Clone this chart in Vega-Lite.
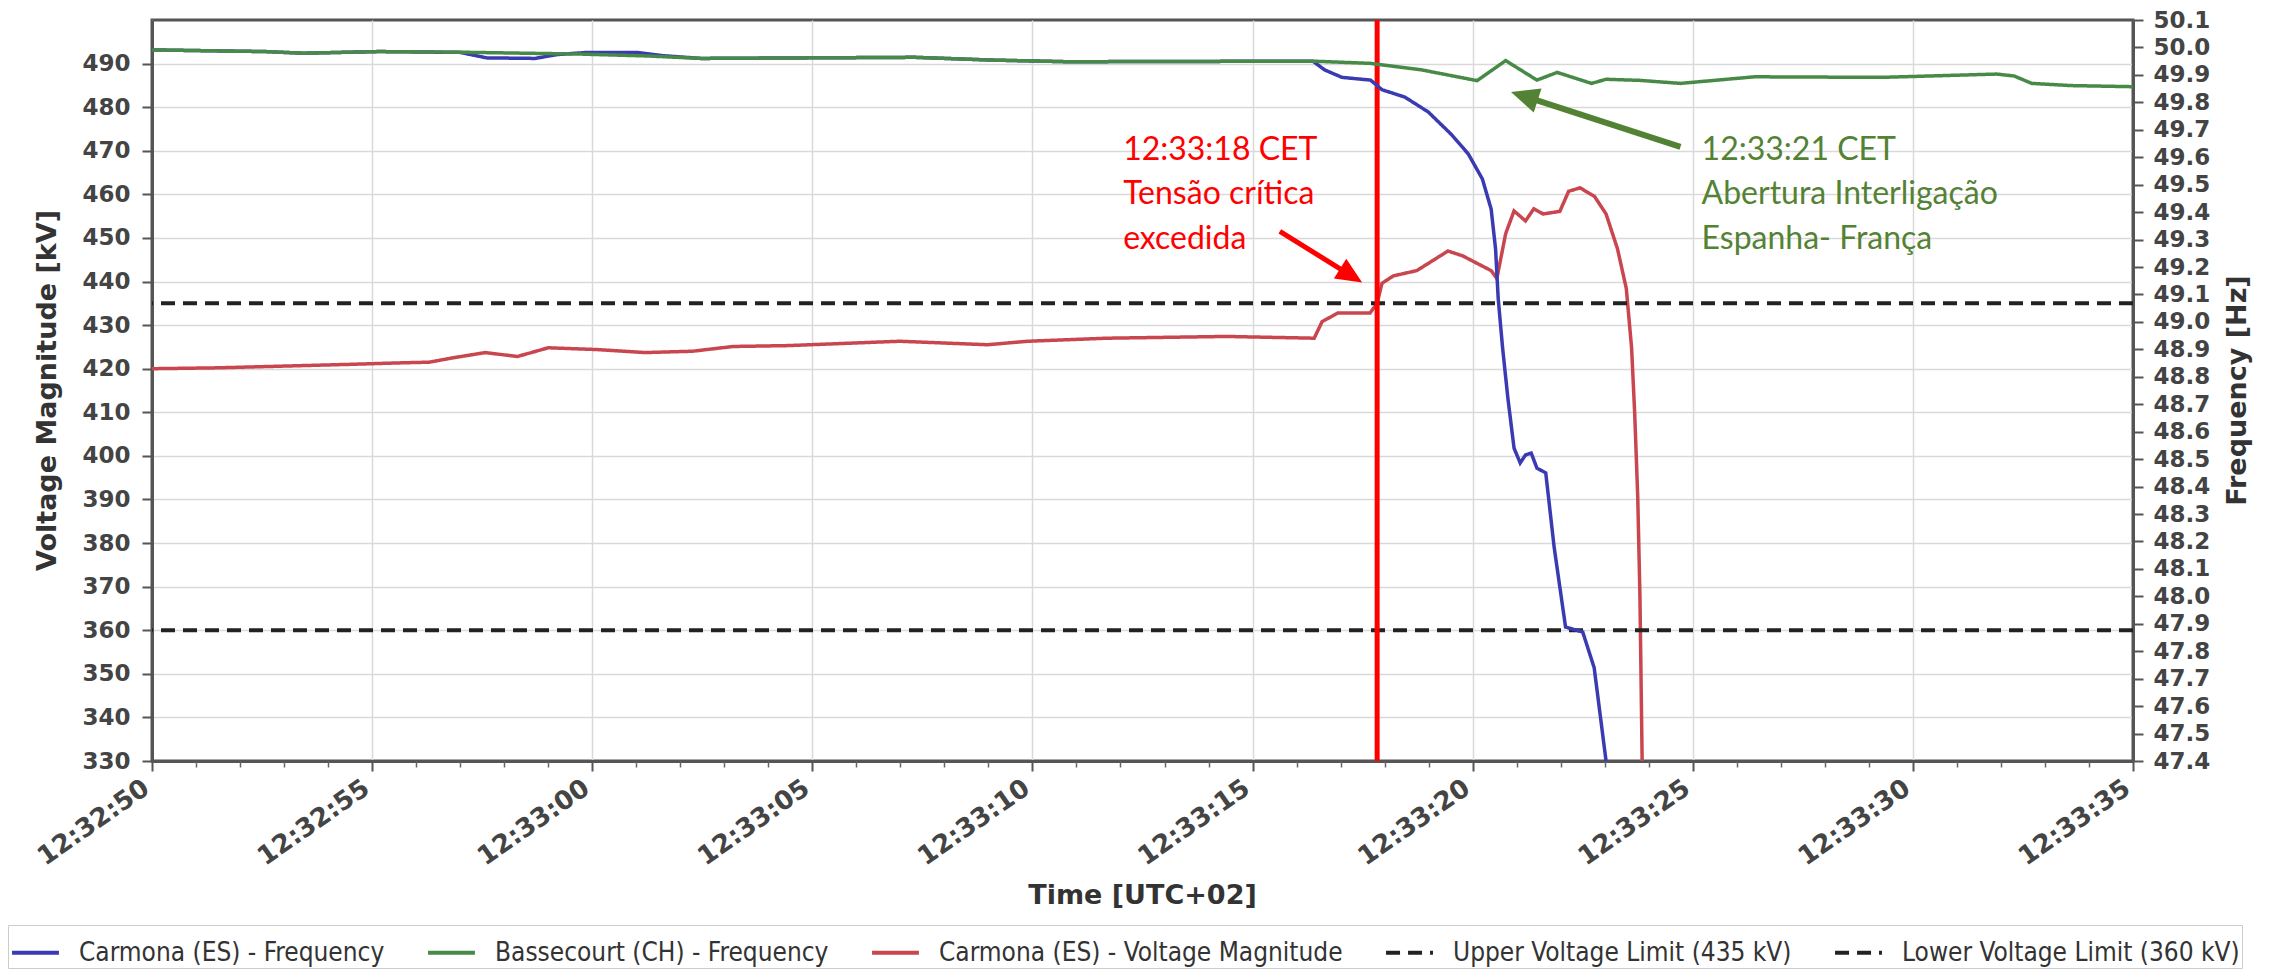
{
  "$schema": "https://vega.github.io/schema/vega-lite/v6.json",
  "width": 1981,
  "height": 741,
  "autosize": {"type": "none"},
  "padding": {"left": 152, "top": 20, "right": 155, "bottom": 209},
  "background": "white",
  "config": {
    "view": {"stroke": "#555555", "strokeWidth": 3}
  },
  "datasets": {
    "volt": [
      {"time": "12:32:50.000", "series": "Carmona (ES) - Voltage Magnitude", "value": 420.0},
      {"time": "12:32:51.500", "series": "Carmona (ES) - Voltage Magnitude", "value": 420.2},
      {"time": "12:32:53.000", "series": "Carmona (ES) - Voltage Magnitude", "value": 420.6},
      {"time": "12:32:54.500", "series": "Carmona (ES) - Voltage Magnitude", "value": 421.0},
      {"time": "12:32:55.500", "series": "Carmona (ES) - Voltage Magnitude", "value": 421.3},
      {"time": "12:32:56.300", "series": "Carmona (ES) - Voltage Magnitude", "value": 421.5},
      {"time": "12:32:56.840", "series": "Carmona (ES) - Voltage Magnitude", "value": 422.5},
      {"time": "12:32:57.570", "series": "Carmona (ES) - Voltage Magnitude", "value": 423.7},
      {"time": "12:32:58.300", "series": "Carmona (ES) - Voltage Magnitude", "value": 422.8},
      {"time": "12:32:59.000", "series": "Carmona (ES) - Voltage Magnitude", "value": 424.8},
      {"time": "12:33:00.100", "series": "Carmona (ES) - Voltage Magnitude", "value": 424.4},
      {"time": "12:33:01.200", "series": "Carmona (ES) - Voltage Magnitude", "value": 423.7},
      {"time": "12:33:02.270", "series": "Carmona (ES) - Voltage Magnitude", "value": 424.0},
      {"time": "12:33:03.200", "series": "Carmona (ES) - Voltage Magnitude", "value": 425.1},
      {"time": "12:33:04.450", "series": "Carmona (ES) - Voltage Magnitude", "value": 425.3},
      {"time": "12:33:06.980", "series": "Carmona (ES) - Voltage Magnitude", "value": 426.3},
      {"time": "12:33:08.970", "series": "Carmona (ES) - Voltage Magnitude", "value": 425.5},
      {"time": "12:33:09.900", "series": "Carmona (ES) - Voltage Magnitude", "value": 426.3},
      {"time": "12:33:11.700", "series": "Carmona (ES) - Voltage Magnitude", "value": 427.0},
      {"time": "12:33:14.400", "series": "Carmona (ES) - Voltage Magnitude", "value": 427.4},
      {"time": "12:33:16.400", "series": "Carmona (ES) - Voltage Magnitude", "value": 427.0},
      {"time": "12:33:16.580", "series": "Carmona (ES) - Voltage Magnitude", "value": 430.8},
      {"time": "12:33:16.940", "series": "Carmona (ES) - Voltage Magnitude", "value": 432.8},
      {"time": "12:33:17.670", "series": "Carmona (ES) - Voltage Magnitude", "value": 432.8},
      {"time": "12:33:17.830", "series": "Carmona (ES) - Voltage Magnitude", "value": 435.0},
      {"time": "12:33:17.940", "series": "Carmona (ES) - Voltage Magnitude", "value": 439.6},
      {"time": "12:33:18.200", "series": "Carmona (ES) - Voltage Magnitude", "value": 441.3},
      {"time": "12:33:18.730", "series": "Carmona (ES) - Voltage Magnitude", "value": 442.5},
      {"time": "12:33:19.440", "series": "Carmona (ES) - Voltage Magnitude", "value": 447.0},
      {"time": "12:33:19.770", "series": "Carmona (ES) - Voltage Magnitude", "value": 445.9},
      {"time": "12:33:20.420", "series": "Carmona (ES) - Voltage Magnitude", "value": 442.5},
      {"time": "12:33:20.550", "series": "Carmona (ES) - Voltage Magnitude", "value": 440.7},
      {"time": "12:33:20.750", "series": "Carmona (ES) - Voltage Magnitude", "value": 451.0},
      {"time": "12:33:20.940", "series": "Carmona (ES) - Voltage Magnitude", "value": 456.2},
      {"time": "12:33:21.200", "series": "Carmona (ES) - Voltage Magnitude", "value": 453.9},
      {"time": "12:33:21.390", "series": "Carmona (ES) - Voltage Magnitude", "value": 456.7},
      {"time": "12:33:21.600", "series": "Carmona (ES) - Voltage Magnitude", "value": 455.5},
      {"time": "12:33:21.980", "series": "Carmona (ES) - Voltage Magnitude", "value": 456.1},
      {"time": "12:33:22.180", "series": "Carmona (ES) - Voltage Magnitude", "value": 460.7},
      {"time": "12:33:22.440", "series": "Carmona (ES) - Voltage Magnitude", "value": 461.5},
      {"time": "12:33:22.770", "series": "Carmona (ES) - Voltage Magnitude", "value": 459.5},
      {"time": "12:33:23.030", "series": "Carmona (ES) - Voltage Magnitude", "value": 455.5},
      {"time": "12:33:23.290", "series": "Carmona (ES) - Voltage Magnitude", "value": 447.5},
      {"time": "12:33:23.490", "series": "Carmona (ES) - Voltage Magnitude", "value": 438.4},
      {"time": "12:33:23.610", "series": "Carmona (ES) - Voltage Magnitude", "value": 424.8},
      {"time": "12:33:23.680", "series": "Carmona (ES) - Voltage Magnitude", "value": 409.9},
      {"time": "12:33:23.750", "series": "Carmona (ES) - Voltage Magnitude", "value": 390.5},
      {"time": "12:33:23.800", "series": "Carmona (ES) - Voltage Magnitude", "value": 367.7},
      {"time": "12:33:23.850", "series": "Carmona (ES) - Voltage Magnitude", "value": 330.0}
    ],
    "freq": [
      {"time": "12:32:50.000", "series": "Carmona (ES) - Frequency", "value": 49.991},
      {"time": "12:32:52.560", "series": "Carmona (ES) - Frequency", "value": 49.985},
      {"time": "12:32:53.430", "series": "Carmona (ES) - Frequency", "value": 49.979},
      {"time": "12:32:55.170", "series": "Carmona (ES) - Frequency", "value": 49.985},
      {"time": "12:32:57.000", "series": "Carmona (ES) - Frequency", "value": 49.982},
      {"time": "12:32:57.600", "series": "Carmona (ES) - Frequency", "value": 49.962},
      {"time": "12:32:58.700", "series": "Carmona (ES) - Frequency", "value": 49.960},
      {"time": "12:32:59.200", "series": "Carmona (ES) - Frequency", "value": 49.974},
      {"time": "12:32:59.900", "series": "Carmona (ES) - Frequency", "value": 49.982},
      {"time": "12:33:01.000", "series": "Carmona (ES) - Frequency", "value": 49.982},
      {"time": "12:33:01.600", "series": "Carmona (ES) - Frequency", "value": 49.970},
      {"time": "12:33:02.470", "series": "Carmona (ES) - Frequency", "value": 49.960},
      {"time": "12:33:07.330", "series": "Carmona (ES) - Frequency", "value": 49.964},
      {"time": "12:33:09.070", "series": "Carmona (ES) - Frequency", "value": 49.954},
      {"time": "12:33:10.800", "series": "Carmona (ES) - Frequency", "value": 49.948},
      {"time": "12:33:16.370", "series": "Carmona (ES) - Frequency", "value": 49.950},
      {"time": "12:33:16.640", "series": "Carmona (ES) - Frequency", "value": 49.918},
      {"time": "12:33:17.030", "series": "Carmona (ES) - Frequency", "value": 49.891},
      {"time": "12:33:17.680", "series": "Carmona (ES) - Frequency", "value": 49.881},
      {"time": "12:33:17.940", "series": "Carmona (ES) - Frequency", "value": 49.846},
      {"time": "12:33:18.460", "series": "Carmona (ES) - Frequency", "value": 49.819},
      {"time": "12:33:18.990", "series": "Carmona (ES) - Frequency", "value": 49.765},
      {"time": "12:33:19.510", "series": "Carmona (ES) - Frequency", "value": 49.684},
      {"time": "12:33:19.900", "series": "Carmona (ES) - Frequency", "value": 49.612},
      {"time": "12:33:20.220", "series": "Carmona (ES) - Frequency", "value": 49.521},
      {"time": "12:33:20.420", "series": "Carmona (ES) - Frequency", "value": 49.411},
      {"time": "12:33:20.520", "series": "Carmona (ES) - Frequency", "value": 49.266},
      {"time": "12:33:20.580", "series": "Carmona (ES) - Frequency", "value": 49.085},
      {"time": "12:33:20.680", "series": "Carmona (ES) - Frequency", "value": 48.905},
      {"time": "12:33:20.800", "series": "Carmona (ES) - Frequency", "value": 48.722},
      {"time": "12:33:20.940", "series": "Carmona (ES) - Frequency", "value": 48.540},
      {"time": "12:33:21.080", "series": "Carmona (ES) - Frequency", "value": 48.486},
      {"time": "12:33:21.200", "series": "Carmona (ES) - Frequency", "value": 48.515},
      {"time": "12:33:21.330", "series": "Carmona (ES) - Frequency", "value": 48.522},
      {"time": "12:33:21.460", "series": "Carmona (ES) - Frequency", "value": 48.467},
      {"time": "12:33:21.660", "series": "Carmona (ES) - Frequency", "value": 48.450},
      {"time": "12:33:21.850", "series": "Carmona (ES) - Frequency", "value": 48.180},
      {"time": "12:33:22.110", "series": "Carmona (ES) - Frequency", "value": 47.888},
      {"time": "12:33:22.500", "series": "Carmona (ES) - Frequency", "value": 47.870},
      {"time": "12:33:22.760", "series": "Carmona (ES) - Frequency", "value": 47.740},
      {"time": "12:33:23.030", "series": "Carmona (ES) - Frequency", "value": 47.400},
      {"time": "12:32:50.000", "series": "Bassecourt (CH) - Frequency", "value": 49.991},
      {"time": "12:32:52.560", "series": "Bassecourt (CH) - Frequency", "value": 49.985},
      {"time": "12:32:53.430", "series": "Bassecourt (CH) - Frequency", "value": 49.979},
      {"time": "12:32:55.170", "series": "Bassecourt (CH) - Frequency", "value": 49.985},
      {"time": "12:32:57.250", "series": "Bassecourt (CH) - Frequency", "value": 49.982},
      {"time": "12:32:59.690", "series": "Bassecourt (CH) - Frequency", "value": 49.976},
      {"time": "12:33:01.250", "series": "Bassecourt (CH) - Frequency", "value": 49.969},
      {"time": "12:33:02.470", "series": "Bassecourt (CH) - Frequency", "value": 49.960},
      {"time": "12:33:07.330", "series": "Bassecourt (CH) - Frequency", "value": 49.964},
      {"time": "12:33:09.070", "series": "Bassecourt (CH) - Frequency", "value": 49.954},
      {"time": "12:33:10.800", "series": "Bassecourt (CH) - Frequency", "value": 49.948},
      {"time": "12:33:16.370", "series": "Bassecourt (CH) - Frequency", "value": 49.950},
      {"time": "12:33:17.680", "series": "Bassecourt (CH) - Frequency", "value": 49.942},
      {"time": "12:33:18.850", "series": "Bassecourt (CH) - Frequency", "value": 49.918},
      {"time": "12:33:20.100", "series": "Bassecourt (CH) - Frequency", "value": 49.879},
      {"time": "12:33:20.750", "series": "Bassecourt (CH) - Frequency", "value": 49.952},
      {"time": "12:33:21.460", "series": "Bassecourt (CH) - Frequency", "value": 49.881},
      {"time": "12:33:21.920", "series": "Bassecourt (CH) - Frequency", "value": 49.909},
      {"time": "12:33:22.700", "series": "Bassecourt (CH) - Frequency", "value": 49.869},
      {"time": "12:33:23.030", "series": "Bassecourt (CH) - Frequency", "value": 49.884},
      {"time": "12:33:23.800", "series": "Bassecourt (CH) - Frequency", "value": 49.880},
      {"time": "12:33:24.720", "series": "Bassecourt (CH) - Frequency", "value": 49.869},
      {"time": "12:33:26.400", "series": "Bassecourt (CH) - Frequency", "value": 49.893},
      {"time": "12:33:29.300", "series": "Bassecourt (CH) - Frequency", "value": 49.891},
      {"time": "12:33:31.900", "series": "Bassecourt (CH) - Frequency", "value": 49.903},
      {"time": "12:33:32.300", "series": "Bassecourt (CH) - Frequency", "value": 49.896},
      {"time": "12:33:32.700", "series": "Bassecourt (CH) - Frequency", "value": 49.869},
      {"time": "12:33:33.600", "series": "Bassecourt (CH) - Frequency", "value": 49.861},
      {"time": "12:33:35.000", "series": "Bassecourt (CH) - Frequency", "value": 49.857}
    ],
    "limits": [
      {"series": "Upper Voltage Limit (435 kV)", "value": 435},
      {"series": "Lower Voltage Limit (360 kV)", "value": 360}
    ],
    "event": [{"time": "12:33:17.830"}],
    "noteRed": [{"time": "12:33:12.060", "value": 467.9, "label": "12:33:18 CET\nTensão crítica\nexcedida"}],
    "noteGreen": [{"time": "12:33:25.200", "value": 467.9, "label": "12:33:21 CET\nAbertura Interligação\nEspanha- França"}],
    "arrowRed": [{"time": "12:33:15.620", "value": 451.5, "time2": "12:33:17.200", "value2": 441.6}],
    "arrowGreen": [{"time": "12:33:24.720", "value": 470.9, "time2": "12:33:21.200", "value2": 482.4}],
    "headRed": [{"time": "12:33:17.490", "value": 439.8}],
    "headGreen": [{"time": "12:33:20.870", "value": 483.5}]
  },
  "layer": [
    {
      "layer": [
        {
          "data": {"name": "volt", "format": {"parse": {"time": "utc:'%H:%M:%S.%L'"}}},
          "mark": {"type": "line", "strokeWidth": 3.5},
          "encoding": {
            "x": {
              "field": "time", "type": "temporal",
              "scale": {"type": "utc", "domain": [
                {"year": 1900, "month": 1, "date": 1, "hours": 12, "minutes": 32, "seconds": 50, "utc": true},
                {"year": 1900, "month": 1, "date": 1, "hours": 12, "minutes": 33, "seconds": 35, "utc": true}
              ]},
              "axis": {
                "orient": "bottom", "format": "%H:%M:%S",
                "values": [
                  {"year": 1900, "month": 1, "date": 1, "hours": 12, "minutes": 32, "seconds": 50, "utc": true},
                  {"year": 1900, "month": 1, "date": 1, "hours": 12, "minutes": 32, "seconds": 55, "utc": true},
                  {"year": 1900, "month": 1, "date": 1, "hours": 12, "minutes": 33, "seconds": 0, "utc": true},
                  {"year": 1900, "month": 1, "date": 1, "hours": 12, "minutes": 33, "seconds": 5, "utc": true},
                  {"year": 1900, "month": 1, "date": 1, "hours": 12, "minutes": 33, "seconds": 10, "utc": true},
                  {"year": 1900, "month": 1, "date": 1, "hours": 12, "minutes": 33, "seconds": 15, "utc": true},
                  {"year": 1900, "month": 1, "date": 1, "hours": 12, "minutes": 33, "seconds": 20, "utc": true},
                  {"year": 1900, "month": 1, "date": 1, "hours": 12, "minutes": 33, "seconds": 25, "utc": true},
                  {"year": 1900, "month": 1, "date": 1, "hours": 12, "minutes": 33, "seconds": 30, "utc": true},
                  {"year": 1900, "month": 1, "date": 1, "hours": 12, "minutes": 33, "seconds": 35, "utc": true}
                ],
                "labelAngle": -35, "labelAlign": "right", "labelBaseline": "middle",
                "labelFont": "DejaVu Sans", "labelFontWeight": "bold", "labelFontSize": 26, "labelColor": "#444444",
                "labelPadding": 14, "labelOffset": -6, "labelOverlap": false, "labelFlush": false, "labelBound": false,
                "tickSize": 10, "tickWidth": 2, "tickColor": "#555555",
                "domainColor": "#555555", "domainWidth": 3,
                "grid": true, "gridColor": "#d9d9d9", "gridWidth": 1.5,
                "title": "Time [UTC+02]", "titleFont": "DejaVu Sans", "titleFontWeight": "bold", "titleFontSize": 27, "titleColor": "#333333",
                "titleX": 990, "titleY": 121, "titleAlign": "center", "titleBaseline": "top"
              }
            },
            "y": {
              "field": "value", "type": "quantitative",
              "scale": {"domain": [330, 500], "nice": false, "zero": false},
              "axis": {
                "orient": "left",
                "values": [330, 340, 350, 360, 370, 380, 390, 400, 410, 420, 430, 440, 450, 460, 470, 480, 490],
                "labelFont": "DejaVu Sans", "labelFontWeight": "bold", "labelFontSize": 23, "labelColor": "#444444",
                "labelPadding": 12, "labelOverlap": false,
                "tickSize": 10, "tickWidth": 2, "tickColor": "#555555",
                "domainColor": "#555555", "domainWidth": 3,
                "grid": true, "gridColor": "#d9d9d9", "gridWidth": 1.5,
                "title": "Voltage Magnitude [kV]", "titleFont": "DejaVu Sans", "titleFontWeight": "bold", "titleFontSize": 27, "titleColor": "#333333",
                "titleAngle": -90, "titleX": -105, "titleY": 370, "titleAlign": "center", "titleBaseline": "middle"
              }
            },
            "color": {
              "field": "series", "type": "nominal",
              "scale": {
                "domain": ["Carmona (ES) - Frequency", "Bassecourt (CH) - Frequency", "Carmona (ES) - Voltage Magnitude", "Upper Voltage Limit (435 kV)", "Lower Voltage Limit (360 kV)"],
                "range": ["#3a3ab2", "#478a47", "#c9464f", "#222222", "#222222"]
              },
              "legend": {
                "title": null, "orient": "none", "legendX": -144, "legendY": 905,
                "direction": "horizontal", "columns": 5,
                "symbolType": "stroke", "symbolSize": 2200, "symbolStrokeWidth": 4,
                "labelFont": "DejaVu Sans Condensed, Liberation Sans Narrow, DejaVu Sans", "labelFontSize": 26, "labelColor": "#333333", "labelLimit": 0,
                "labelOffset": 18, "columnPadding": 35, "padding": 2,
                "strokeColor": "#cccccc", "fillColor": "white"
              }
            },
            "strokeDash": {
              "field": "series", "type": "nominal",
              "scale": {
                "domain": ["Carmona (ES) - Frequency", "Bassecourt (CH) - Frequency", "Carmona (ES) - Voltage Magnitude", "Upper Voltage Limit (435 kV)", "Lower Voltage Limit (360 kV)"],
                "range": [[1, 0], [1, 0], [1, 0], [14, 8], [14, 8]]
              },
              "legend": {
                "title": null, "orient": "none", "legendX": -144, "legendY": 905,
                "direction": "horizontal", "columns": 5,
                "symbolType": "stroke", "symbolSize": 2200, "symbolStrokeWidth": 4,
                "labelFont": "DejaVu Sans Condensed, Liberation Sans Narrow, DejaVu Sans", "labelFontSize": 26, "labelColor": "#333333", "labelLimit": 0,
                "labelOffset": 18, "columnPadding": 35, "padding": 2,
                "strokeColor": "#cccccc", "fillColor": "white"
              }
            }
          }
        },
        {
          "data": {"name": "limits"},
          "mark": {"type": "rule", "strokeWidth": 4},
          "encoding": {
            "y": {"field": "value", "type": "quantitative"},
            "color": {"field": "series", "type": "nominal"},
            "strokeDash": {"field": "series", "type": "nominal"}
          }
        },
        {
          "data": {"name": "event", "format": {"parse": {"time": "utc:'%H:%M:%S.%L'"}}},
          "mark": {"type": "rule", "color": "#ff0000", "strokeWidth": 5},
          "encoding": {"x": {"field": "time", "type": "temporal"}}
        },
        {
          "data": {"name": "noteRed", "format": {"parse": {"time": "utc:'%H:%M:%S.%L'"}}},
          "mark": {"type": "text", "align": "left", "baseline": "alphabetic", "font": "Lato", "fontSize": 32, "lineBreak": "\n", "lineHeight": 44.5, "color": "#ff0000"},
          "encoding": {
            "x": {"field": "time", "type": "temporal"},
            "y": {"field": "value", "type": "quantitative"},
            "text": {"field": "label", "type": "nominal"}
          }
        },
        {
          "data": {"name": "noteGreen", "format": {"parse": {"time": "utc:'%H:%M:%S.%L'"}}},
          "mark": {"type": "text", "align": "left", "baseline": "alphabetic", "font": "Lato", "fontSize": 32, "lineBreak": "\n", "lineHeight": 44.5, "color": "#548235"},
          "encoding": {
            "x": {"field": "time", "type": "temporal"},
            "y": {"field": "value", "type": "quantitative"},
            "text": {"field": "label", "type": "nominal"}
          }
        },
        {
          "data": {"name": "arrowRed", "format": {"parse": {"time": "utc:'%H:%M:%S.%L'", "time2": "utc:'%H:%M:%S.%L'"}}},
          "mark": {"type": "rule", "color": "#ff0000", "strokeWidth": 5},
          "encoding": {
            "x": {"field": "time", "type": "temporal"},
            "y": {"field": "value", "type": "quantitative"},
            "x2": {"field": "time2"},
            "y2": {"field": "value2"}
          }
        },
        {
          "data": {"name": "arrowGreen", "format": {"parse": {"time": "utc:'%H:%M:%S.%L'", "time2": "utc:'%H:%M:%S.%L'"}}},
          "mark": {"type": "rule", "color": "#548235", "strokeWidth": 6},
          "encoding": {
            "x": {"field": "time", "type": "temporal"},
            "y": {"field": "value", "type": "quantitative"},
            "x2": {"field": "time2"},
            "y2": {"field": "value2"}
          }
        },
        {
          "data": {"name": "headRed", "format": {"parse": {"time": "utc:'%H:%M:%S.%L'"}}},
          "mark": {"type": "point", "shape": "M0,0L-1,-0.45L-1,0.45Z", "filled": true, "opacity": 1, "color": "#ff0000", "size": 2704, "angle": 31.9},
          "encoding": {
            "x": {"field": "time", "type": "temporal"},
            "y": {"field": "value", "type": "quantitative"}
          }
        },
        {
          "data": {"name": "headGreen", "format": {"parse": {"time": "utc:'%H:%M:%S.%L'"}}},
          "mark": {"type": "point", "shape": "M0,0L-1,-0.45L-1,0.45Z", "filled": true, "opacity": 1, "color": "#548235", "size": 3136, "angle": 197.9},
          "encoding": {
            "x": {"field": "time", "type": "temporal"},
            "y": {"field": "value", "type": "quantitative"}
          }
        }
      ]
    },
    {
      "layer": [
        {
          "data": {"name": "freq", "format": {"parse": {"time": "utc:'%H:%M:%S.%L'"}}},
          "mark": {"type": "line", "strokeWidth": 3.5},
          "encoding": {
            "x": {
              "field": "time", "type": "temporal",
              "axis": {
                "orient": "bottom",
                "values": [
                  {"year": 1900, "month": 1, "date": 1, "hours": 12, "minutes": 32, "seconds": 51, "utc": true},
                  {"year": 1900, "month": 1, "date": 1, "hours": 12, "minutes": 32, "seconds": 52, "utc": true},
                  {"year": 1900, "month": 1, "date": 1, "hours": 12, "minutes": 32, "seconds": 53, "utc": true},
                  {"year": 1900, "month": 1, "date": 1, "hours": 12, "minutes": 32, "seconds": 54, "utc": true},
                  {"year": 1900, "month": 1, "date": 1, "hours": 12, "minutes": 32, "seconds": 56, "utc": true},
                  {"year": 1900, "month": 1, "date": 1, "hours": 12, "minutes": 32, "seconds": 57, "utc": true},
                  {"year": 1900, "month": 1, "date": 1, "hours": 12, "minutes": 32, "seconds": 58, "utc": true},
                  {"year": 1900, "month": 1, "date": 1, "hours": 12, "minutes": 32, "seconds": 59, "utc": true},
                  {"year": 1900, "month": 1, "date": 1, "hours": 12, "minutes": 33, "seconds": 1, "utc": true},
                  {"year": 1900, "month": 1, "date": 1, "hours": 12, "minutes": 33, "seconds": 2, "utc": true},
                  {"year": 1900, "month": 1, "date": 1, "hours": 12, "minutes": 33, "seconds": 3, "utc": true},
                  {"year": 1900, "month": 1, "date": 1, "hours": 12, "minutes": 33, "seconds": 4, "utc": true},
                  {"year": 1900, "month": 1, "date": 1, "hours": 12, "minutes": 33, "seconds": 6, "utc": true},
                  {"year": 1900, "month": 1, "date": 1, "hours": 12, "minutes": 33, "seconds": 7, "utc": true},
                  {"year": 1900, "month": 1, "date": 1, "hours": 12, "minutes": 33, "seconds": 8, "utc": true},
                  {"year": 1900, "month": 1, "date": 1, "hours": 12, "minutes": 33, "seconds": 9, "utc": true},
                  {"year": 1900, "month": 1, "date": 1, "hours": 12, "minutes": 33, "seconds": 11, "utc": true},
                  {"year": 1900, "month": 1, "date": 1, "hours": 12, "minutes": 33, "seconds": 12, "utc": true},
                  {"year": 1900, "month": 1, "date": 1, "hours": 12, "minutes": 33, "seconds": 13, "utc": true},
                  {"year": 1900, "month": 1, "date": 1, "hours": 12, "minutes": 33, "seconds": 14, "utc": true},
                  {"year": 1900, "month": 1, "date": 1, "hours": 12, "minutes": 33, "seconds": 16, "utc": true},
                  {"year": 1900, "month": 1, "date": 1, "hours": 12, "minutes": 33, "seconds": 17, "utc": true},
                  {"year": 1900, "month": 1, "date": 1, "hours": 12, "minutes": 33, "seconds": 18, "utc": true},
                  {"year": 1900, "month": 1, "date": 1, "hours": 12, "minutes": 33, "seconds": 19, "utc": true},
                  {"year": 1900, "month": 1, "date": 1, "hours": 12, "minutes": 33, "seconds": 21, "utc": true},
                  {"year": 1900, "month": 1, "date": 1, "hours": 12, "minutes": 33, "seconds": 22, "utc": true},
                  {"year": 1900, "month": 1, "date": 1, "hours": 12, "minutes": 33, "seconds": 23, "utc": true},
                  {"year": 1900, "month": 1, "date": 1, "hours": 12, "minutes": 33, "seconds": 24, "utc": true},
                  {"year": 1900, "month": 1, "date": 1, "hours": 12, "minutes": 33, "seconds": 26, "utc": true},
                  {"year": 1900, "month": 1, "date": 1, "hours": 12, "minutes": 33, "seconds": 27, "utc": true},
                  {"year": 1900, "month": 1, "date": 1, "hours": 12, "minutes": 33, "seconds": 28, "utc": true},
                  {"year": 1900, "month": 1, "date": 1, "hours": 12, "minutes": 33, "seconds": 29, "utc": true},
                  {"year": 1900, "month": 1, "date": 1, "hours": 12, "minutes": 33, "seconds": 31, "utc": true},
                  {"year": 1900, "month": 1, "date": 1, "hours": 12, "minutes": 33, "seconds": 32, "utc": true},
                  {"year": 1900, "month": 1, "date": 1, "hours": 12, "minutes": 33, "seconds": 33, "utc": true},
                  {"year": 1900, "month": 1, "date": 1, "hours": 12, "minutes": 33, "seconds": 34, "utc": true}
                ],
                "labels": false, "domain": false, "grid": false,
                "tickSize": 6, "tickWidth": 1.5, "tickColor": "#666666", "title": null
              }
            },
            "y": {
              "field": "value", "type": "quantitative",
              "scale": {"domain": [47.4, 50.1], "nice": false, "zero": false},
              "axis": {
                "orient": "right",
                "values": [47.4, 47.5, 47.6, 47.7, 47.8, 47.9, 48.0, 48.1, 48.2, 48.3, 48.4, 48.5, 48.6, 48.7, 48.8, 48.9, 49.0, 49.1, 49.2, 49.3, 49.4, 49.5, 49.6, 49.7, 49.8, 49.9, 50.0, 50.1],
                "format": ".1f",
                "labelFont": "DejaVu Sans", "labelFontWeight": "bold", "labelFontSize": 23, "labelColor": "#444444",
                "labelPadding": 10, "labelOverlap": false,
                "tickSize": 10, "tickWidth": 2, "tickColor": "#555555",
                "domainColor": "#555555", "domainWidth": 3, "grid": false,
                "title": "Frequency [Hz]", "titleFont": "DejaVu Sans", "titleFontWeight": "bold", "titleFontSize": 27, "titleColor": "#333333",
                "titleAngle": -90, "titleX": 104, "titleY": 370, "titleAlign": "center", "titleBaseline": "middle"
              }
            },
            "color": {"field": "series", "type": "nominal"},
            "strokeDash": {"field": "series", "type": "nominal"}
          }
        }
      ]
    }
  ],
  "resolve": {"scale": {"y": "independent"}, "axis": {"x": "independent"}}
}
